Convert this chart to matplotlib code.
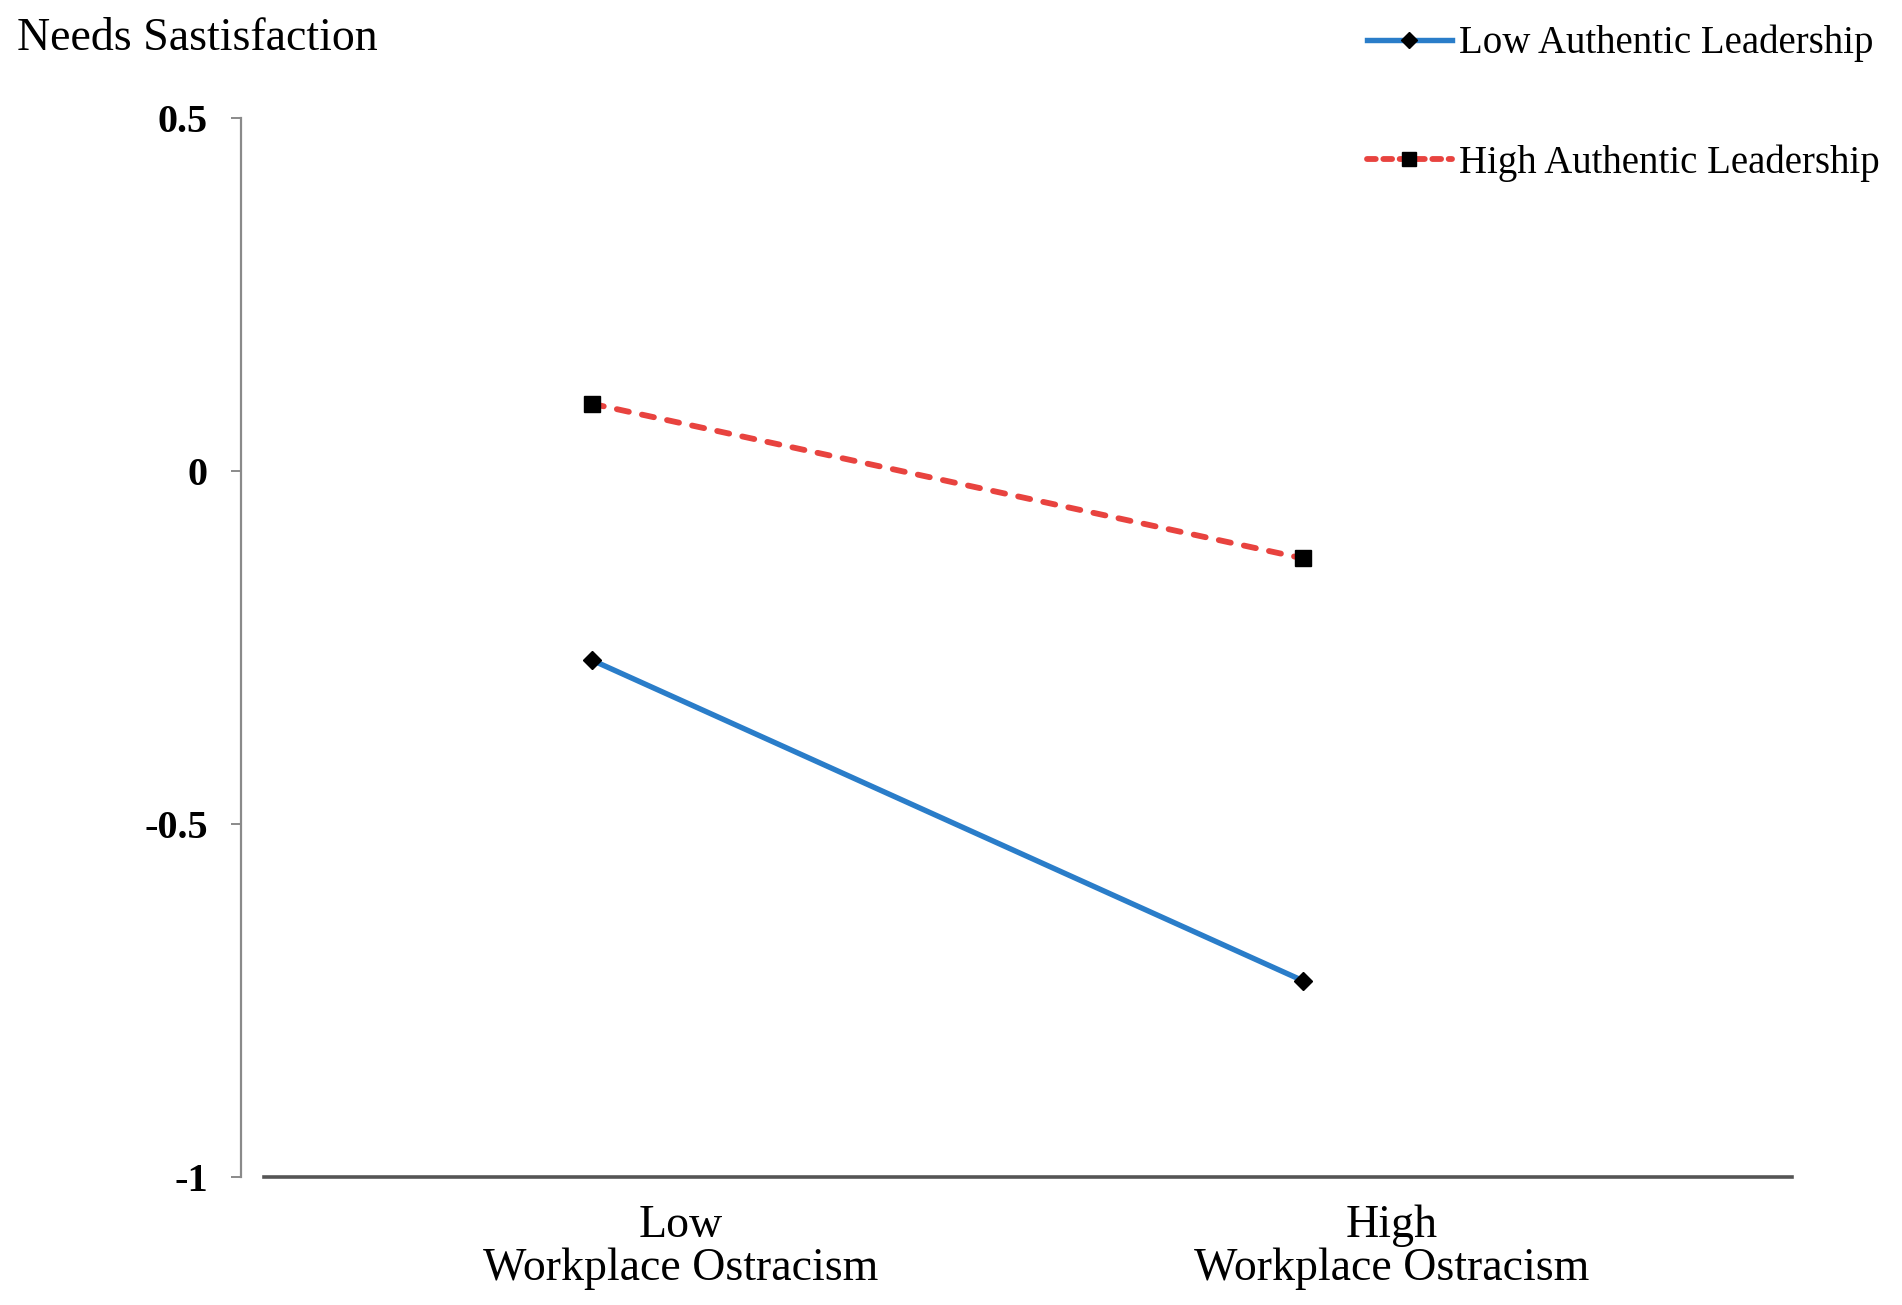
import matplotlib
matplotlib.use("Agg")
import matplotlib.pyplot as plt
import matplotlib.transforms as mtransforms
from matplotlib.lines import Line2D

# ---- data ----
categories = ["Low\nWorkplace Ostracism", "High\nWorkplace Ostracism"]
low_al = [-0.268, -0.722]
high_al = [0.095, -0.124]
series_names = ["Low Authentic Leadership", "High Authentic Leadership"]
yticks = [-1, -0.5, 0, 0.5]
ytick_labels = ["-1", "-0.5", "0", "0.5"]
y_title = "Needs Sastisfaction"

plt.rcParams['font.family'] = ['Liberation Serif', 'DejaVu Serif']

W, H, DPI = 1902, 1305, 100
fig = plt.figure(figsize=(W / DPI, H / DPI), dpi=DPI)
left, right = 264 / W, 1792 / W
top, bottom = 1 - 117.7 / H, 1 - 1177 / H
ax = fig.add_axes([left, bottom, right - left, top - bottom])

blue = '#2A7DC9'
red = '#E8433F'

x = list(range(len(categories)))
ax.plot(x, low_al, color=blue, lw=3.9, marker='D', markersize=9.5,
        markerfacecolor='black', markeredgecolor='black', zorder=3,
        solid_capstyle='butt')
ax.plot(x, high_al, color=red, lw=4.2, dashes=(2.1, 2.3),
        dash_capstyle='round', marker='s',
        markersize=12, markerfacecolor='black', markeredgecolor='black',
        zorder=3)

ax.set_xlim(-0.461, 1.688)
ax.set_ylim(-1, 0.5)

for s in ['top', 'right']:
    ax.spines[s].set_visible(False)
ax.spines['left'].set_position(('outward', 16.5))
ax.spines['left'].set_color('#8a8a8a')
ax.spines['left'].set_linewidth(1.6)
ax.spines['bottom'].set_color('#555555')
ax.spines['bottom'].set_linewidth(2.6)

ax.set_yticks(yticks)
ax.set_yticklabels(ytick_labels, fontsize=29, fontweight='bold')
ax.tick_params(axis='y', direction='out', length=7, width=1.4,
               color='#8a8a8a', pad=17)

ax.set_xticks(x)
ax.set_xticklabels(categories, fontsize=33, linespacing=1.02)
ax.tick_params(axis='x', length=0, pad=20)
offset = mtransforms.ScaledTranslation(89 / DPI, 0, fig.dpi_scale_trans)
for lab in ax.get_xticklabels():
    lab.set_transform(lab.get_transform() + offset)

fig.text(17 / W, 1 - 39 / H, y_title, fontsize=33, ha='left', va='center')

handles = [
    Line2D([], [], color=blue, lw=3.9, marker='D', markersize=8,
           markerfacecolor='black', markeredgecolor='black'),
    Line2D([], [], color=red, lw=4.2, dashes=(1.5, 1.3), dash_capstyle='round',
           marker='s', markersize=10, markerfacecolor='black',
           markeredgecolor='black'),
]
fig.legend(handles, series_names, loc='upper left',
           bbox_to_anchor=(1367 / W, 1 - 25 / H), frameon=False,
           fontsize=28, handlelength=2.18, handletextpad=0.18,
           labelspacing=2.1, borderaxespad=0, borderpad=0)

fig.savefig('out.png', dpi=DPI)
